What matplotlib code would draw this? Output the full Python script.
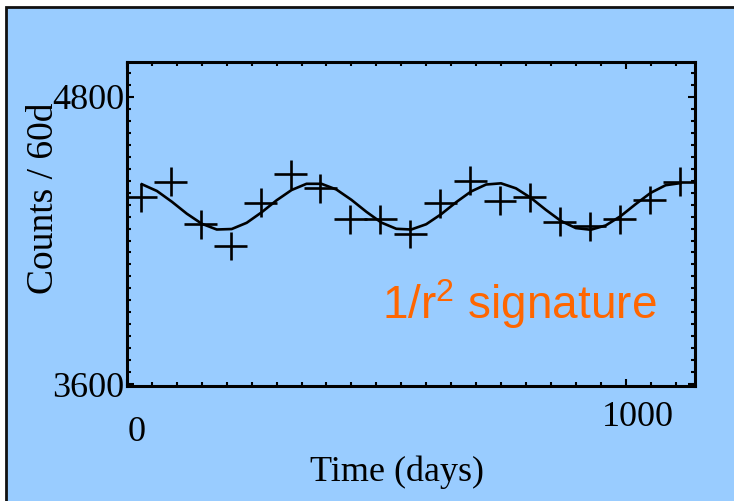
#!/usr/bin/env python
# counts per 60 day bin with the 1/r^2 fit
import matplotlib
matplotlib.use('Agg')
import matplotlib.pyplot as plt
from matplotlib.patches import Rectangle
from matplotlib.ticker import MultipleLocator
from matplotlib.transforms import ScaledTranslation

# binned counts (crosses)
days = [28, 88, 148, 208, 268, 328, 388, 448, 508, 568,
        628, 688, 748, 808, 868, 928, 988, 1048, 1108]
counts = [4380, 4446, 4268, 4177, 4358, 4477, 4418, 4289, 4289, 4227,
          4355, 4450, 4366, 4380, 4279, 4260, 4289, 4369, 4446]
count_err = 60
day_err = 33

fit_days = [30, 60, 90, 120, 150, 180, 210, 240, 270, 300, 330, 360, 390,
            420, 450, 480, 510, 540, 570, 600, 630, 660, 690, 720, 750, 780,
            810, 840, 870, 900, 930, 960, 990, 1020, 1050, 1080, 1110]
fit_counts = [4435, 4407, 4362, 4312, 4270, 4246, 4248, 4274, 4318, 4368,
              4411, 4437, 4437, 4413, 4370, 4320, 4275, 4249, 4246, 4268,
              4310, 4360, 4405, 4434, 4439, 4418, 4378, 4328, 4282, 4252,
              4245, 4263, 4302, 4352, 4399, 4431, 4440]

xticks = [0, 1000]
yticks = [3600, 4800]

blue = '#99CCFF'
serif = ['Liberation Serif', 'DejaVu Serif']

plt.rcParams['mathtext.fontset'] = 'custom'
plt.rcParams['mathtext.rm'] = 'Liberation Sans'
plt.rcParams['mathtext.it'] = 'Liberation Sans'

fig = plt.figure(figsize=(7.34, 5.01), dpi=100)
fig.patch.set_facecolor('white')
# blue slide panel with dark border
panel = Rectangle((6 / 734., -0.1), 1.2, 1.1 - 7 / 501., transform=fig.transFigure,
                  facecolor=blue, edgecolor='#111111', lw=2.0, zorder=-5)
fig.patches.append(panel)

ax = fig.add_axes([127 / 734., 115 / 501., 568 / 734., 324 / 501.])
ax.set_facecolor(blue)

ax.plot(fit_days, fit_counts, color='black', lw=1.9, zorder=3)
ax.errorbar(days, counts, yerr=count_err, xerr=day_err, fmt='none',
            ecolor='black', elinewidth=1.9, capsize=0, zorder=4)

ax.set_xlim(0, 1139)
ax.set_ylim(3592, 4946)

for sp in ax.spines.values():
    sp.set_linewidth(2.2)
    sp.set_color('black')

ax.set_xticks(xticks)
ax.set_xticklabels([str(v) for v in xticks], family=serif, fontsize=26)
ax.xaxis.set_minor_locator(MultipleLocator(50))
ax.set_yticks(yticks)
ax.set_yticklabels([str(v) for v in yticks], family=serif, fontsize=26)
ax.yaxis.set_minor_locator(MultipleLocator(50))
ax.tick_params(which='both', direction='in', top=True, right=True, color='black')
ax.tick_params(which='major', length=5, width=1.5)
ax.tick_params(which='minor', length=3, width=1.5)
ax.tick_params(axis='y', which='major', pad=2)
ax.tick_params(axis='x', which='major', pad=0)

# scanned labels sit off their ticks
offsets = [(10, -30), (12, -15)]
for lab, (dx, dy) in zip(ax.get_xticklabels(), offsets):
    lab.set_transform(lab.get_transform() + ScaledTranslation(dx / 100., dy / 100., fig.dpi_scale_trans))

ax.set_xlabel('Time (days)', family=serif, fontsize=26)
ax.xaxis.label.set_va('center')
ax.xaxis.set_label_coords(0.475, -0.265)
ax.set_ylabel('Counts / 60d', family=serif, fontsize=27)
ax.yaxis.label.set_va('center')
ax.yaxis.set_label_coords(-0.146, 0.58)

ax.text(0.69, 0.207, r'1/r$^{\mathrm{2}}$ signature', transform=ax.transAxes,
        ha='center', va='baseline', color='#FF6600', fontsize=33,
        family=['Liberation Sans', 'DejaVu Sans'])

plt.savefig('out.png', dpi=100)
